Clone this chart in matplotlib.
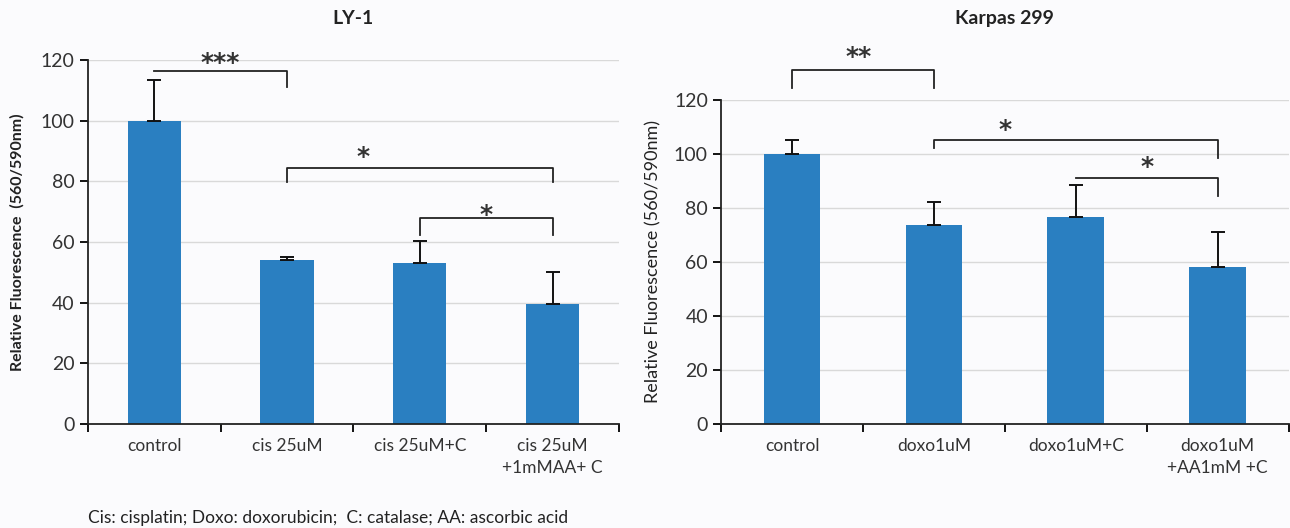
import matplotlib
matplotlib.use('Agg')
from matplotlib import pyplot as plt

plt.rcParams['font.family'] = ['Lato', 'DejaVu Sans']

# LY-1
ly_labels = ['control', 'cis 25uM', 'cis 25uM+C', 'cis 25uM\n+1mMAA+ C']
ly_vals = [100, 54, 53, 39.5]
ly_err = [13.5, 1, 7.5, 10.5]

# Karpas 299
kp_labels = ['control', 'doxo1uM', 'doxo1uM+C', 'doxo1uM\n+AA1mM +C']
kp_vals = [100, 73.5, 76.5, 58]
kp_err = [5, 8.5, 12, 13]

bar_color = '#2a7fc1'
bg = '#fbfbfd'

fig = plt.figure(figsize=(12.9, 5.28), dpi=100, facecolor=bg)
ax1 = fig.add_axes([0.068, 0.197, 0.412, 0.689])
ax2 = fig.add_axes([0.559, 0.197, 0.440, 0.614])


def draw(ax, labels, vals, err, ylabel, bold):
    ax.set_facecolor(bg)
    x = range(len(vals))
    ax.bar(x, vals, width=0.4, color=bar_color, zorder=2)
    ax.errorbar(x, vals, yerr=[[0] * len(err), err], fmt='none', ecolor='#111111',
                elinewidth=1.4, capsize=5, capthick=1.4, zorder=3)
    ax.set_ylim(0, 120)
    ax.set_xlim(-0.5, 3.5)
    ax.set_yticks(range(0, 121, 20))
    ax.yaxis.grid(True, color='#d9d9d9', linewidth=1, zorder=0)
    ax.set_xticks([-0.5, 0.5, 1.5, 2.5, 3.5])
    ax.set_xticklabels([])
    ax.set_xticks(list(x), minor=True)
    ax.set_xticklabels(labels, minor=True, fontsize=12.5, color='#333333', linespacing=1.5)
    ax.tick_params(axis='x', which='minor', length=0, pad=10)
    ax.tick_params(axis='x', which='major', direction='out', length=6, width=1.3)
    ax.tick_params(axis='y', length=6, width=1.3, labelsize=14, labelcolor='#333333')
    for s in ['top', 'right']:
        ax.spines[s].set_visible(False)
    for s in ['left', 'bottom']:
        ax.spines[s].set_linewidth(1.3)
        ax.spines[s].set_color('#222222')
    ax.set_ylabel(ylabel, fontsize=11.5 if bold else 13,
                  fontweight='bold' if bold else 'normal', color='#222222')


def bracket(ax, x0, x1, y, d0, d1, stars, sx, sy):
    xs = [x0, x0, x1, x1]
    ys = [y - d0, y, y, y - d1]
    ax.plot(xs, ys, color='#222222', linewidth=1.3, clip_on=False, zorder=4)
    ax.text(sx, sy, stars, ha='center', va='center', fontsize=18, fontweight='bold',
            family='DejaVu Sans', color='#333333', clip_on=False, zorder=5)


draw(ax1, ly_labels, ly_vals, ly_err, 'Relative Fluorescence  (560/590nm)', True)
draw(ax2, kp_labels, kp_vals, kp_err, 'Relative Fluorescence (560/590nm)', False)
ax1.yaxis.set_label_coords(-0.118, 0.5)
ax2.yaxis.set_label_coords(-0.106, 0.5)

bracket(ax1, 0, 1, 116.3, 0, 5.3, '***', 0.5, 119)
bracket(ax1, 1, 3, 84.6, 4.8, 4.8, '*', 1.57, 88)
bracket(ax1, 2, 3, 68, 5.5, 5.5, '*', 2.5, 69)

bracket(ax2, 0, 1, 131, 6.5, 6.5, '**', 0.47, 136)
bracket(ax2, 1, 3, 105, 3, 6.5, '*', 1.5, 109)
bracket(ax2, 2, 3, 91, 0, 6.5, '*', 2.5, 95)

fig.text(0.274, 0.965, 'LY-1', ha='center', va='center', fontsize=14, fontweight='bold', color='#222222')
fig.text(0.779, 0.965, 'Karpas 299', ha='center', va='center', fontsize=14, fontweight='bold', color='#222222')
fig.text(0.068, 0.019, 'Cis: cisplatin; Doxo: doxorubicin;  C: catalase; AA: ascorbic acid',
         ha='left', va='center', fontsize=12.5, color='#222222')

fig.savefig('out.png', dpi=100, facecolor=bg)
